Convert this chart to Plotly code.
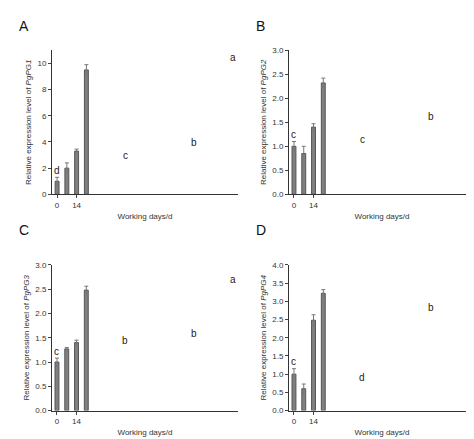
import plotly.graph_objects as go
from plotly.subplots import make_subplots

days = ["0", "7", "14", "18"]
pg1 = [1.0, 2.0, 3.3, 9.5]
pg1_err = [0.3, 0.4, 0.15, 0.4]
pg1_sig = ["d", "c", "b", "a"]
pg2 = [1.0, 0.85, 1.4, 2.32]
pg2_err = [0.1, 0.15, 0.07, 0.1]
pg2_sig = ["c", "c", "b", "a"]
pg3 = [1.0, 1.27, 1.4, 2.48]
pg3_err = [0.08, 0.03, 0.05, 0.08]
pg3_sig = ["c", "b", "b", "a"]
pg4 = [1.0, 0.6, 2.48, 3.22]
pg4_err = [0.15, 0.13, 0.15, 0.1]
pg4_sig = ["c", "d", "b", "a"]

panels = [
    ("A", "PgPG1", pg1, pg1_err, pg1_sig, 11, 2),
    ("B", "PgPG2", pg2, pg2_err, pg2_sig, 3.0, 0.5),
    ("C", "PgPG3", pg3, pg3_err, pg3_sig, 3.0, 0.5),
    ("D", "PgPG4", pg4, pg4_err, pg4_sig, 4.0, 0.5),
]

fig = make_subplots(rows=2, cols=2)
xdom = [[0.093, 0.485], [0.593, 0.985]]
ydom = [[0.576, 0.911], [0.073, 0.412]]
font = dict(family="Liberation Sans, Arial", size=8, color="#333")

for i, (lab, gene, vals, err, sig, ymax, dt) in enumerate(panels):
    r, c = i // 2, i % 2
    fig.add_trace(go.Bar(
        x=days, y=vals, width=0.4,
        marker=dict(color="#808080", line=dict(color="#555", width=1)),
        error_y=dict(type="data", array=err, color="#777", thickness=1, width=2),
        showlegend=False), row=r + 1, col=c + 1)
    ax = "" if i == 0 else str(i + 1)
    fig.layout["xaxis" + ax].update(type="category", domain=xdom[c], showline=True,
        linecolor="#333", ticks="outside", ticklen=3, tickfont=font,
        title=dict(text="Working days/d", font=font, standoff=4))
    fig.layout["yaxis" + ax].update(domain=ydom[r], range=[0, ymax], dtick=dt,
        tickformat=".1f" if dt < 1 else "d", showline=True, linecolor="#333",
        ticks="outside", ticklen=3, tickfont=font, showgrid=False, zeroline=False,
        title=dict(text="Relative expression level of <i>%s</i>" % gene, font=font, standoff=4))
    for d, v, e, s in zip(days, vals, err, sig):
        fig.add_annotation(x=d, y=v + e, text=s, showarrow=False, yshift=7,
                           xref="x" + ax, yref="y" + ax,
                           font=dict(family="Liberation Sans, Arial", size=10, color="#222"))
    fig.add_annotation(x=xdom[c][0] - 0.075, y=ydom[r][1] + 0.08, xref="paper", yref="paper",
                       text=lab, showarrow=False, xanchor="left",
                       font=dict(family="Liberation Sans, Arial", size=14, color="#111"))

fig.update_layout(width=474, height=439, margin=dict(l=0, r=0, t=0, b=0),
                  plot_bgcolor="white", paper_bgcolor="white", bargap=0.6)
fig.write_html("out.html")
